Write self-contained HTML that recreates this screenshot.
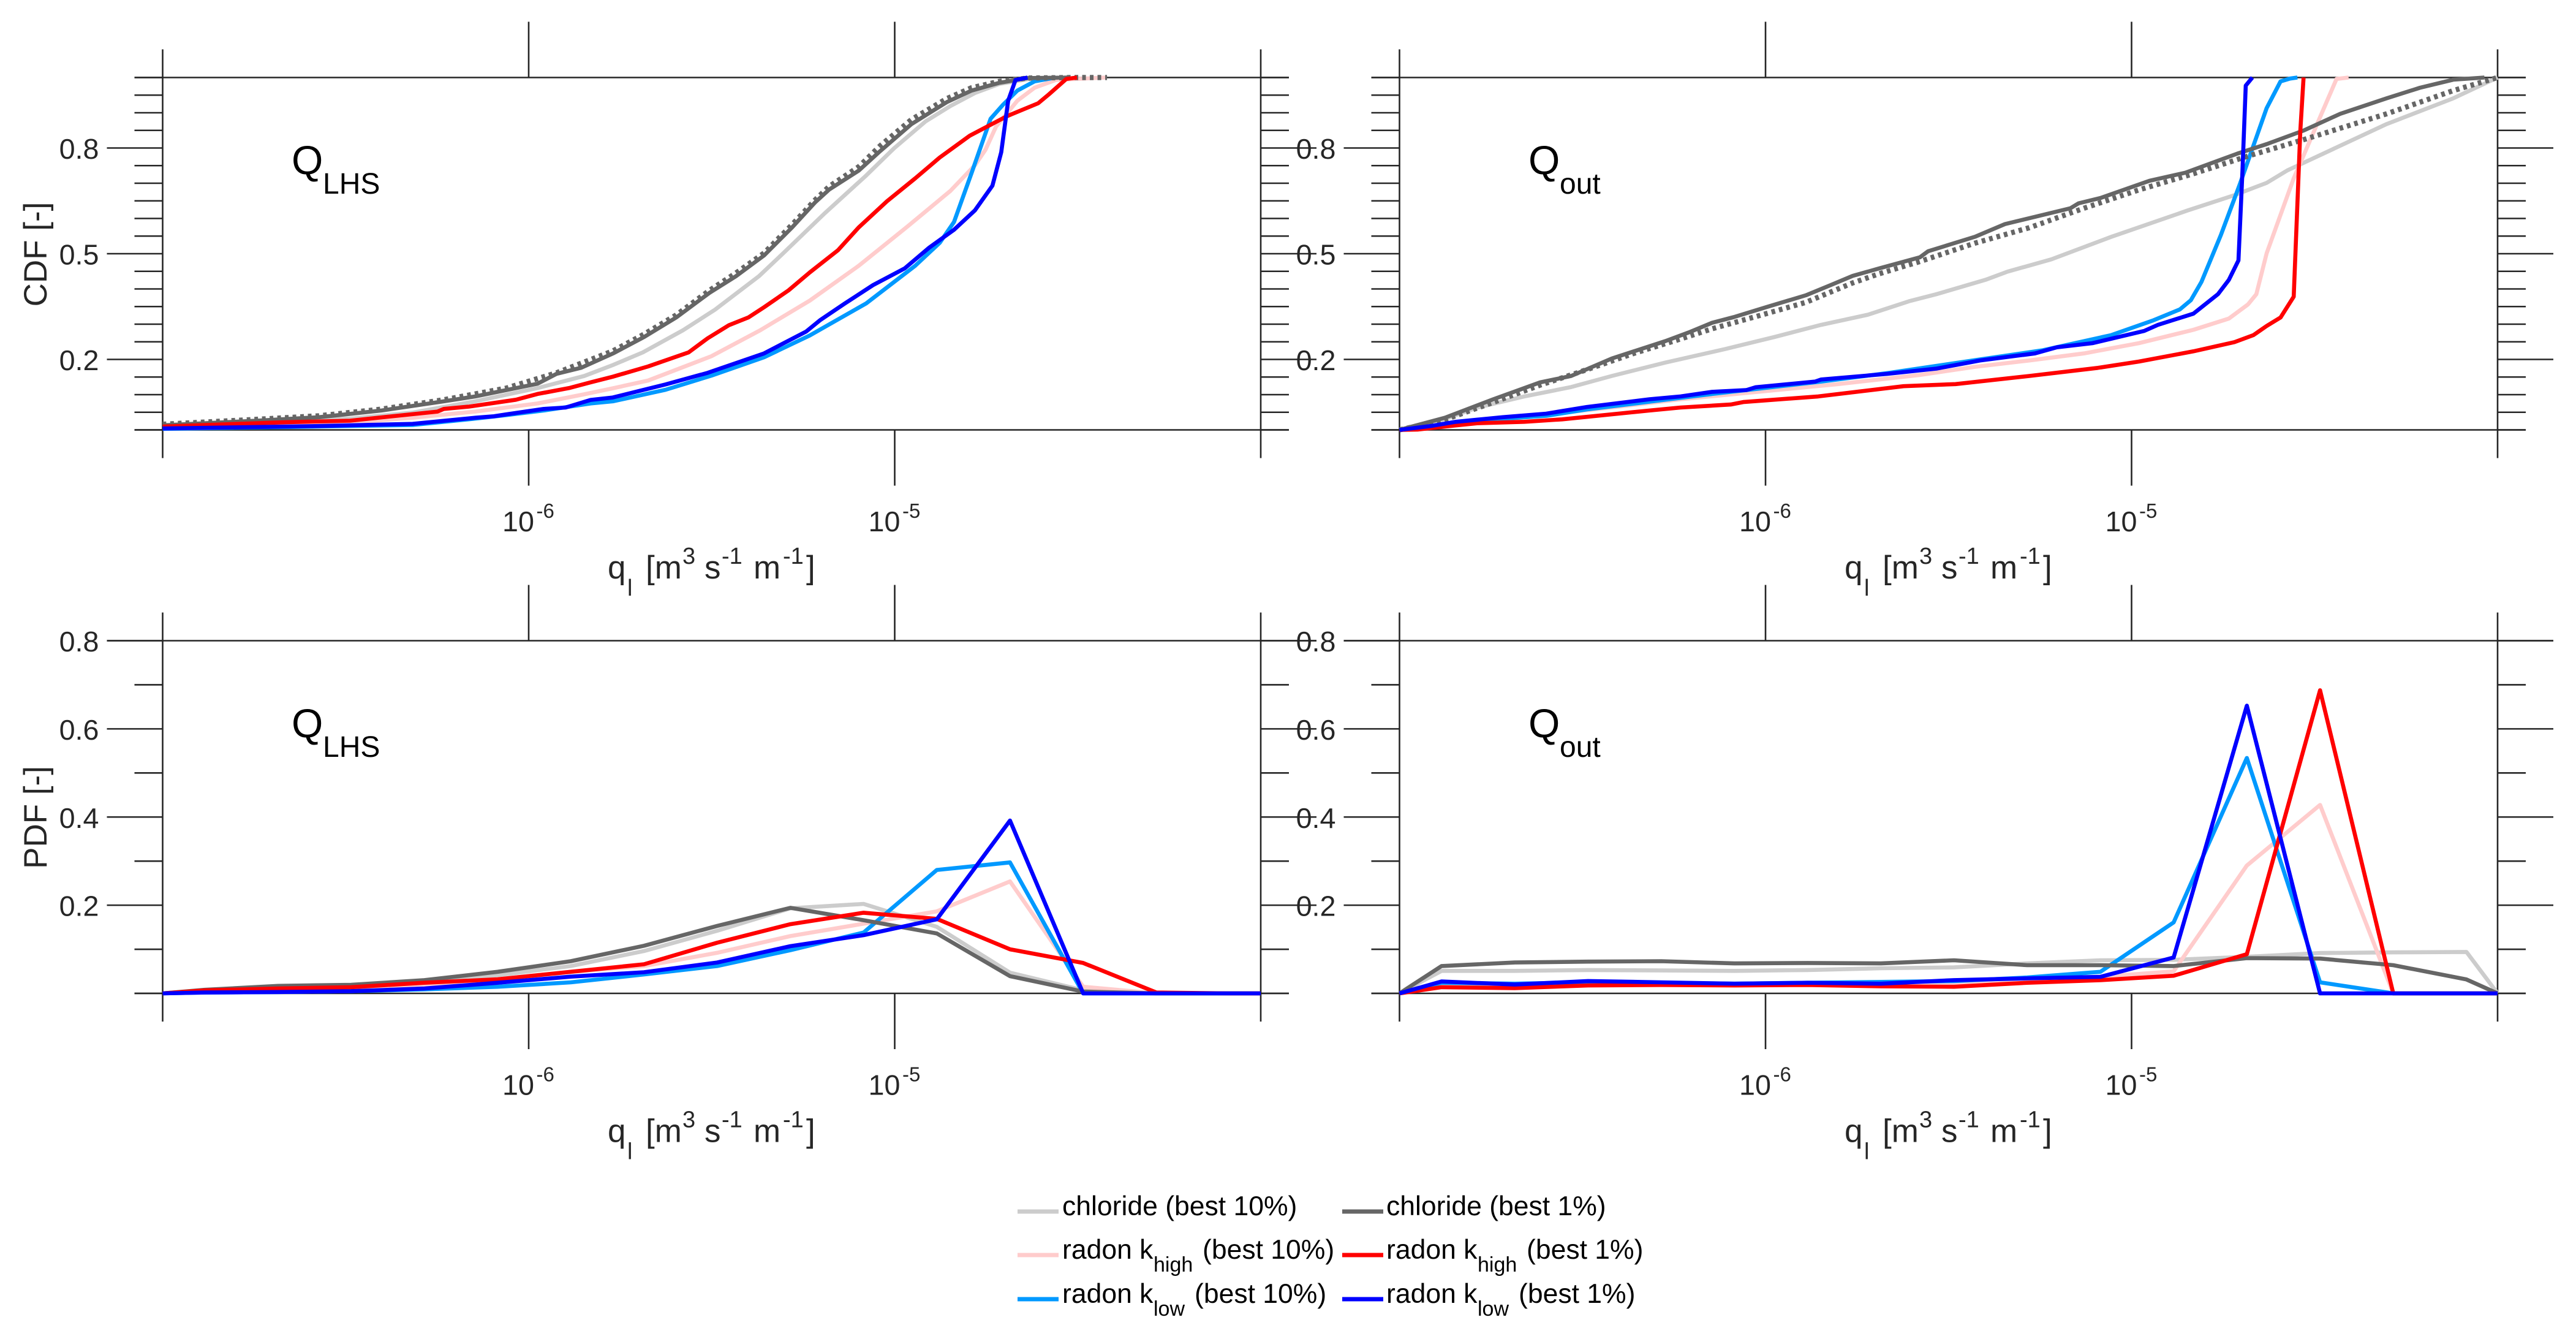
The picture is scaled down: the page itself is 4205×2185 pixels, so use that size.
<!DOCTYPE html>
<html lang="en">
<head>
<meta charset="utf-8">
<title>CDF and PDF of q_l for Q_LHS and Q_out</title>
<style>
html,body{margin:0;padding:0;background:#fff;}
svg{display:block;}
text{font-family:"Liberation Sans",Arial,sans-serif;fill:#262626;}
.title-black{fill:#000;}
</style>
</head>
<body>
<svg id="figure" xmlns="http://www.w3.org/2000/svg" width="4205" height="2185" viewBox="0 0 4205 2185">
<rect x="0" y="0" width="4205" height="2185" fill="#fff"/>

<!-- y axis titles -->
<text transform="translate(76,415) rotate(-90)" text-anchor="middle" font-size="53">CDF [-]</text>
<text transform="translate(76,1334) rotate(-90)" text-anchor="middle" font-size="53">PDF [-]</text>

<!-- x axis titles -->
<g transform="translate(0,0)">
<text font-size="53"><tspan x="992" y="944">q</tspan><tspan x="1024" y="972" font-size="38">l</tspan><tspan x="1054" y="944">[m</tspan><tspan x="1114" y="920" font-size="38">3</tspan><tspan x="1150" y="944">s</tspan><tspan x="1178" y="920" font-size="38">-1</tspan><tspan x="1230" y="944">m</tspan><tspan x="1278" y="920" font-size="38">-1</tspan><tspan x="1316" y="944">]</tspan></text>
</g>
<g transform="translate(2019,0)">
<text font-size="53"><tspan x="992" y="944">q</tspan><tspan x="1024" y="972" font-size="38">l</tspan><tspan x="1054" y="944">[m</tspan><tspan x="1114" y="920" font-size="38">3</tspan><tspan x="1150" y="944">s</tspan><tspan x="1178" y="920" font-size="38">-1</tspan><tspan x="1230" y="944">m</tspan><tspan x="1278" y="920" font-size="38">-1</tspan><tspan x="1316" y="944">]</tspan></text>
</g>
<g transform="translate(0,919.5)">
<text font-size="53"><tspan x="992" y="944">q</tspan><tspan x="1024" y="972" font-size="38">l</tspan><tspan x="1054" y="944">[m</tspan><tspan x="1114" y="920" font-size="38">3</tspan><tspan x="1150" y="944">s</tspan><tspan x="1178" y="920" font-size="38">-1</tspan><tspan x="1230" y="944">m</tspan><tspan x="1278" y="920" font-size="38">-1</tspan><tspan x="1316" y="944">]</tspan></text>
</g>
<g transform="translate(2019,919.5)">
<text font-size="53"><tspan x="992" y="944">q</tspan><tspan x="1024" y="972" font-size="38">l</tspan><tspan x="1054" y="944">[m</tspan><tspan x="1114" y="920" font-size="38">3</tspan><tspan x="1150" y="944">s</tspan><tspan x="1178" y="920" font-size="38">-1</tspan><tspan x="1230" y="944">m</tspan><tspan x="1278" y="920" font-size="38">-1</tspan><tspan x="1316" y="944">]</tspan></text>
</g>

<!-- panel annotations -->
<text class="title-black"><tspan x="476" y="284" font-size="66">Q</tspan><tspan x="527" y="316" font-size="48">LHS</tspan></text>
<text class="title-black"><tspan x="2495" y="284" font-size="66">Q</tspan><tspan x="2546" y="316" font-size="48">out</tspan></text>
<text class="title-black"><tspan x="476" y="1203" font-size="66">Q</tspan><tspan x="527" y="1235" font-size="48">LHS</tspan></text>
<text class="title-black"><tspan x="2495" y="1203" font-size="66">Q</tspan><tspan x="2546" y="1235" font-size="48">out</tspan></text>

<!-- legend -->
<g>
<g>
<line x1="1661" x2="1728" y1="1977" y2="1977" stroke="#cccccc" stroke-width="7"/>
<text font-size="44.5" class="title-black" x="1734" y="1983">chloride (best 10%)</text>
</g>
<g>
<line x1="1661" x2="1728" y1="2048" y2="2048" stroke="#ffcccc" stroke-width="7"/>
<text font-size="44.5" class="title-black"><tspan x="1734" y="2054">radon k</tspan><tspan x="1883" y="2075" font-size="34">high</tspan><tspan x="1963" y="2054">(best 10%)</tspan></text>
</g>
<g>
<line x1="1661" x2="1728" y1="2120" y2="2120" stroke="#0099ff" stroke-width="7"/>
<text font-size="44.5" class="title-black"><tspan x="1734" y="2126">radon k</tspan><tspan x="1883" y="2147" font-size="34">low</tspan><tspan x="1950" y="2126">(best 10%)</tspan></text>
</g>
<g>
<line x1="2191" x2="2258" y1="1977" y2="1977" stroke="#666666" stroke-width="7"/>
<text font-size="44.5" class="title-black" x="2263" y="1983">chloride (best 1%)</text>
</g>
<g>
<line x1="2191" x2="2258" y1="2048" y2="2048" stroke="#ff0000" stroke-width="7"/>
<text font-size="44.5" class="title-black"><tspan x="2263" y="2054">radon k</tspan><tspan x="2412" y="2075" font-size="34">high</tspan><tspan x="2492" y="2054">(best 1%)</tspan></text>
</g>
<g>
<line x1="2191" x2="2258" y1="2120" y2="2120" stroke="#0000ff" stroke-width="7"/>
<text font-size="44.5" class="title-black"><tspan x="2263" y="2126">radon k</tspan><tspan x="2412" y="2147" font-size="34">low</tspan><tspan x="2479" y="2126">(best 1%)</tspan></text>
</g>
</g>
</svg>

<script>
// ---- tick data ----
const xTickExponents = [-6, -5];
const cdfMajorTicks = [0.2, 0.5, 0.8];
const cdfMinorTicks = [0, 0.05, 0.1, 0.15, 0.25, 0.3, 0.35, 0.4, 0.45, 0.55, 0.6, 0.65, 0.7, 0.75, 0.85, 0.9, 0.95, 1];
const pdfMajorTicks = [0.2, 0.4, 0.6, 0.8];
const pdfMinorTicks = [0, 0.1, 0.3, 0.5, 0.7];

// ---- CDF Q_LHS (log10 q, CDF) ----
const cdfLhsChloride10X = [-7,-6.488,-6.317,-6.146,-5.976,-5.848,-5.77,-5.688,-5.578,-5.491,-5.371,-5.304,-5.194,-5.078,-5.002,-4.915,-4.848,-4.781,-4.714,-4.618,-4.52];
const cdfLhsChloride10Y = [.011,.032,.049,.081,.1186,.153,.184,.22,.283,.341,.436,.502,.612,.722,.799,.876,.919,.956,.982,.9985,1];
const cdfLhsChloride1X = [-7,-6.744,-6.573,-6.402,-6.232,-6.146,-6.061,-5.976,-5.924,-5.856,-5.77,-5.684,-5.597,-5.506,-5.434,-5.357,-5.28,-5.218,-5.179,-5.098,-5.04,-4.954,-4.858,-4.79,-4.714,-4.637,-4.52];
const cdfLhsChloride1Y = [.013,.026,.036,.055,.081,.095,.113,.131,.159,.1765,.2167,.264,.319,.389,.436,.495,.575,.645,.682,.736,.791,.868,.93,.963,.985,.9985,1];
const cdfLhsDottedX = [-7,-6.744,-6.573,-6.402,-6.232,-6.061,-5.924,-5.77,-5.684,-5.597,-5.506,-5.434,-5.357,-5.28,-5.218,-5.179,-5.098,-5.04,-4.954,-4.858,-4.79,-4.714,-4.637,-4.52,-4.42];
const cdfLhsDottedY = [.016,.03,.04,.059,.0855,.1186,.162,.224,.272,.326,.396,.445,.502,.583,.652,.691,.747,.806,.881,.94,.971,.989,.9985,1,1];
const cdfLhsHigh10X = [-7,-6.488,-6.317,-6.146,-5.976,-5.848,-5.77,-5.674,-5.501,-5.367,-5.232,-5.098,-4.963,-4.848,-4.781,-4.752,-4.723,-4.665,-4.618,-4.56,-4.425];
const cdfLhsHigh10Y = [.007,.021,.0345,.052,.075,.101,.118,.14,.209,.283,.367,.466,.579,.678,.751,.795,.861,.934,.971,.993,1];
const cdfLhsHigh1X = [-7,-6.659,-6.488,-6.36,-6.249,-6.232,-6.163,-6.035,-5.976,-5.89,-5.831,-5.77,-5.674,-5.563,-5.511,-5.453,-5.4,-5.357,-5.29,-5.232,-5.155,-5.098,-5.021,-4.944,-4.877,-4.795,-4.694,-4.608,-4.579,-4.531,-4.502];
const cdfLhsHigh1Y = [.0096,.022,.026,.04,.052,.0594,.066,.0855,.102,.1186,.135,.151,.18,.22,.26,.297,.319,.348,.396,.447,.51,.575,.649,.714,.773,.835,.89,.927,.952,.996,1];
const cdfLhsLow10X = [-7,-6.573,-6.317,-6.146,-6.061,-5.959,-5.831,-5.77,-5.626,-5.501,-5.357,-5.232,-5.078,-4.944,-4.877,-4.838,-4.79,-4.738,-4.704,-4.665,-4.618,-4.56];
const cdfLhsLow10Y = [.003,.0096,.014,.032,.042,.055,.075,.081,.114,.154,.206,.268,.359,.466,.531,.59,.729,.883,.923,.963,.989,1];
const cdfLhsLow1X = [-7,-6.573,-6.317,-6.146,-6.095,-6.061,-5.959,-5.899,-5.831,-5.77,-5.626,-5.511,-5.357,-5.242,-5.203,-5.136,-5.059,-4.973,-4.906,-4.838,-4.781,-4.733,-4.709,-4.69,-4.67,-4.637];
const cdfLhsLow1Y = [.004,.011,.017,.0345,.0386,.044,.0594,.0635,.085,.092,.129,.162,.217,.279,.312,.359,.411,.458,.517,.568,.623,.693,.788,.934,.993,1];

// ---- CDF Q_out (log10 q, CDF) ----
const cdfOutChloride10X = [-7,-6.915,-6.787,-6.659,-6.531,-6.42,-6.274,-6.112,-5.976,-5.848,-5.72,-5.608,-5.533,-5.399,-5.339,-5.219,-5.055,-4.846,-4.719,-4.631,-4.575,-4.303,-4.121,-4];
const cdfOutChloride10Y = [0,.017,.0635,.095,.1215,.153,.191,.229,.2635,.298,.327,.365,.385,.426,.449,.484,.548,.623,.666,.701,.736,.868,.941,1];
const cdfOutChloride1X = [-7,-6.876,-6.744,-6.616,-6.531,-6.42,-6.274,-6.206,-6.146,-6.087,-5.993,-5.89,-5.822,-5.762,-5.69,-5.578,-5.556,-5.428,-5.346,-5.167,-5.145,-5.085,-4.951,-4.853,-4.711,-4.631,-4.529,-4.43,-4.303,-4.212,-4.121,-4.036];
const cdfOutChloride1Y = [0,.0345,.0867,.1348,.153,.2026,.2519,.278,.304,.32,.35,.382,.411,.437,.458,.49,.507,.548,.584,.629,.643,.658,.707,.73,.784,.811,.85,.897,.941,.971,.994,1];
const cdfOutDottedX = [-7,-6.876,-6.744,-6.616,-6.488,-6.36,-6.232,-6.146,-6.018,-5.89,-5.762,-5.69,-5.578,-5.428,-5.279,-5.13,-4.98,-4.831,-4.682,-4.529,-4.303,-4.121,-4];
const cdfOutDottedY = [0,.029,.078,.127,.171,.217,.258,.287,.324,.362,.417,.443,.478,.53,.574,.629,.681,.727,.777,.824,.897,.963,1];
const cdfOutHigh10X = [-7,-6.863,-6.744,-6.573,-6.402,-6.232,-6.061,-5.89,-5.802,-5.578,-5.428,-5.279,-5.13,-4.98,-4.831,-4.734,-4.682,-4.659,-4.631,-4.557,-4.44,-4.407];
const cdfOutHigh10Y = [0,.014,.026,.046,.066,.087,.104,.121,.13,.156,.179,.197,.217,.246,.284,.316,.356,.385,.501,.714,.996,1];
const cdfOutHigh1X = [-7,-6.949,-6.863,-6.787,-6.659,-6.556,-6.402,-6.317,-6.232,-6.095,-6.061,-5.856,-5.623,-5.481,-5.279,-5.092,-4.98,-4.831,-4.719,-4.667,-4.631,-4.593,-4.557,-4.539,-4.53];
const cdfOutHigh1Y = [0,.001,.011,.019,.023,.03,.046,.055,.0635,.072,.079,.095,.124,.13,.153,.176,.194,.223,.249,.269,.295,.319,.378,.846,1];
const cdfOutLow10X = [-7,-6.915,-6.846,-6.718,-6.599,-6.488,-6.317,-6.146,-6.027,-5.848,-5.662,-5.414,-5.242,-5.055,-4.943,-4.868,-4.838,-4.809,-4.756,-4.704,-4.631,-4.593,-4.567,-4.547];
const cdfOutLow10Y = [0,.009,.02,.0316,.04,.058,.08,.102,.116,.137,.162,.2,.226,.269,.31,.342,.368,.42,.553,.698,.913,.989,.997,1];
const cdfOutLow1X = [-7,-6.915,-6.846,-6.718,-6.599,-6.488,-6.317,-6.232,-6.146,-6.052,-6.027,-5.865,-5.848,-5.668,-5.533,-5.414,-5.264,-5.204,-5.107,-4.965,-4.928,-4.831,-4.764,-4.734,-4.708,-4.697,-4.688,-4.67];
const cdfOutLow1Y = [0,.011,.023,.036,.046,.065,.087,.095,.108,.113,.121,.137,.143,.159,.174,.197,.217,.2345,.246,.281,.298,.33,.385,.426,.481,.733,.977,1];

// ---- PDF bins (log10 q) ----
const pdfBins = [-7,-6.885,-6.685,-6.485,-6.285,-6.085,-5.885,-5.685,-5.485,-5.285,-5.085,-4.885,-4.685,-4.485,-4.285,-4.085,-4];

// ---- PDF Q_LHS ----
const pdfLhsChloride10 = [0,.005,.011,.0136,.024,.041,.062,.096,.142,.193,.203,.151,.047,.007,0,0,0];
const pdfLhsChloride1 = [0,.008,.017,.0195,.03,.049,.073,.108,.153,.194,.166,.136,.039,.004,0,0,0];
const pdfLhsHigh10 = [0,.003,.007,.011,.02,.032,.049,.062,.092,.13,.158,.186,.254,.015,0,0,0];
const pdfLhsHigh1 = [0,.007,.011,.014,.024,.032,.049,.066,.115,.157,.183,.169,.1,.069,.002,0,0];
const pdfLhsLow10 = [0,.002,.003,.005,.009,.015,.025,.043,.062,.098,.138,.28,.297,0,0,0,0];
const pdfLhsLow1 = [0,.002,.003,.005,.011,.024,.038,.048,.07,.107,.132,.168,.392,0,0,0,0];

// ---- PDF Q_out ----
const pdfOutChloride10 = [0,.051,.051,.053,.052,.051,.053,.057,.059,.068,.075,.076,.083,.0915,.093,.094,0];
const pdfOutChloride1 = [0,.062,.07,.072,.073,.068,.069,.068,.075,.064,.064,.062,.08,.079,.064,.0315,0];
const pdfOutHigh10 = [0,.017,.015,.021,.021,.019,.021,.021,.024,.03,.0375,.05,.29,.4275,0,0,0];
const pdfOutHigh1 = [0,.014,.012,.018,.019,.018,.019,.016,.015,.024,.03,.04,.089,.6875,0,0,0];
const pdfOutLow10 = [0,.024,.022,.025,.024,.022,.024,.026,.028,.036,.049,.161,.534,.025,0,0,0];
const pdfOutLow1 = [0,.027,.02,.028,.025,.022,.024,.022,.03,.034,.0375,.0815,.6525,0,0,0,0];

const seriesColors = { chloride10:'#cccccc', chloride1:'#666666', high10:'#ffcccc', high1:'#ff0000', low10:'#0099ff', low1:'#0000ff' };
const AXIS = '#262626';
const svg = document.getElementById('figure');
const NS = 'http://www.w3.org/2000/svg';

function xScale(panel, logValue) { return panel.left + (logValue + 7) * panel.width / 3; }
function yScale(panel, value) { return panel.y0 - (value / panel.yMax) * (panel.y0 - panel.yTop); }

function seg(parent, name, x1, y1, x2, y2) {
  const el = document.createElementNS(NS, 'line');
  
  
  el.setAttribute('x1', x1); el.setAttribute('y1', y1);
  el.setAttribute('x2', x2); el.setAttribute('y2', y2);
  el.setAttribute('stroke', AXIS);
  el.setAttribute('stroke-width', '2.6');
  parent.appendChild(el);
}

function drawSeries(parent, panel, name, xs, ys, color, dotted) {
  const pts = xs.map((v, i) => xScale(panel, v).toFixed(1) + ',' + yScale(panel, ys[i]).toFixed(1)).join(' ');
  const el = document.createElementNS(NS, 'polyline');
  
  
  el.setAttribute('points', pts);
  el.setAttribute('fill', 'none');
  el.setAttribute('stroke', color);
  el.setAttribute('stroke-linejoin', 'round');
  if (dotted) {
    el.setAttribute('stroke-width', '8.5');
    el.setAttribute('stroke-dasharray', '6 6.5');
  } else {
    el.setAttribute('stroke-width', '6.6');
  }
  parent.appendChild(el);
}

function drawAxes(panel) {
  const g = document.createElementNS(NS, 'g');
  
  
  svg.appendChild(g);
  const L = panel.left, R = panel.left + panel.width;
  const minorLen = 46, majorLen = 91;
  seg(g, panel.name + '-left-axis', L, panel.yTop - 46, L, panel.y0 + 46);
  seg(g, panel.name + '-right-axis', R, panel.yTop - 46, R, panel.y0 + 46);
  const topLen = panel.topMajor ? majorLen : minorLen;
  seg(g, panel.name + '-top-axis', L - topLen, panel.yTop, R + topLen, panel.yTop);
  seg(g, panel.name + '-bottom-axis', L - minorLen, panel.y0, R + minorLen, panel.y0);
  panel.minor.forEach(v => {
    seg(g, panel.name + '-y-minor-tick-left', L - minorLen, yScale(panel, v), L, yScale(panel, v));
    seg(g, panel.name + '-y-minor-tick-right', R, yScale(panel, v), R + minorLen, yScale(panel, v));
  });
  panel.major.forEach(v => {
    seg(g, panel.name + '-y-major-tick-left', L - majorLen, yScale(panel, v), L, yScale(panel, v));
    seg(g, panel.name + '-y-major-tick-right', R, yScale(panel, v), R + majorLen, yScale(panel, v));
    const t = document.createElementNS(NS, 'text');
    
    
    t.setAttribute('x', L - 104);
    t.setAttribute('y', yScale(panel, v) + 17.5);
    t.setAttribute('text-anchor', 'end');
    t.setAttribute('font-size', '46.7');
    t.textContent = v.toFixed(1);
    g.appendChild(t);
  });
  xTickExponents.forEach(e => {
    const x = xScale(panel, e);
    seg(g, panel.name + '-x-tick-top', x, panel.yTop - 91, x, panel.yTop);
    seg(g, panel.name + '-x-tick-bottom', x, panel.y0, x, panel.y0 + 91);
    const t = document.createElementNS(NS, 'text');
    
    
    t.setAttribute('font-size', '46.7');
    const base = document.createElementNS(NS, 'tspan');
    base.setAttribute('x', x - 43);
    base.setAttribute('y', panel.y0 + 165.5);
    base.textContent = '10';
    const sup = document.createElementNS(NS, 'tspan');
    sup.setAttribute('x', x + 12.5);
    sup.setAttribute('y', panel.y0 + 143.5);
    sup.setAttribute('font-size', '33');
    sup.textContent = String(e);
    t.appendChild(base);
    t.appendChild(sup);
    g.appendChild(t);
  });
  return g;
}

const cdfLhsPanel = { name:'cdf-lhs', left:265.5, width:1792.5, y0:701.5, yTop:126.5, yMax:1, major:cdfMajorTicks, minor:cdfMinorTicks, topMajor:false };
const cdfOutPanel = { name:'cdf-out', left:2284.5, width:1792.5, y0:701.5, yTop:126.5, yMax:1, major:cdfMajorTicks, minor:cdfMinorTicks, topMajor:false };
const pdfLhsPanel = { name:'pdf-lhs', left:265.5, width:1792.5, y0:1621, yTop:1045.5, yMax:0.8, major:pdfMajorTicks, minor:pdfMinorTicks, topMajor:true };
const pdfOutPanel = { name:'pdf-out', left:2284.5, width:1792.5, y0:1621, yTop:1045.5, yMax:0.8, major:pdfMajorTicks, minor:pdfMinorTicks, topMajor:true };

[cdfLhsPanel, cdfOutPanel, pdfLhsPanel, pdfOutPanel].forEach(drawAxes);

// CDF Q_LHS lines
drawSeries(svg, cdfLhsPanel, 'cdf-lhs-chloride-best-10', cdfLhsChloride10X, cdfLhsChloride10Y, seriesColors.chloride10);
drawSeries(svg, cdfLhsPanel, 'cdf-lhs-radon-khigh-best-10', cdfLhsHigh10X, cdfLhsHigh10Y, seriesColors.high10);
drawSeries(svg, cdfLhsPanel, 'cdf-lhs-radon-klow-best-10', cdfLhsLow10X, cdfLhsLow10Y, seriesColors.low10);
drawSeries(svg, cdfLhsPanel, 'cdf-lhs-reference-dotted', cdfLhsDottedX, cdfLhsDottedY, seriesColors.chloride1, true);
drawSeries(svg, cdfLhsPanel, 'cdf-lhs-chloride-best-1', cdfLhsChloride1X, cdfLhsChloride1Y, seriesColors.chloride1);
drawSeries(svg, cdfLhsPanel, 'cdf-lhs-radon-khigh-best-1', cdfLhsHigh1X, cdfLhsHigh1Y, seriesColors.high1);
drawSeries(svg, cdfLhsPanel, 'cdf-lhs-radon-klow-best-1', cdfLhsLow1X, cdfLhsLow1Y, seriesColors.low1);

// CDF Q_out lines
drawSeries(svg, cdfOutPanel, 'cdf-out-chloride-best-10', cdfOutChloride10X, cdfOutChloride10Y, seriesColors.chloride10);
drawSeries(svg, cdfOutPanel, 'cdf-out-radon-khigh-best-10', cdfOutHigh10X, cdfOutHigh10Y, seriesColors.high10);
drawSeries(svg, cdfOutPanel, 'cdf-out-radon-klow-best-10', cdfOutLow10X, cdfOutLow10Y, seriesColors.low10);
drawSeries(svg, cdfOutPanel, 'cdf-out-reference-dotted', cdfOutDottedX, cdfOutDottedY, seriesColors.chloride1, true);
drawSeries(svg, cdfOutPanel, 'cdf-out-chloride-best-1', cdfOutChloride1X, cdfOutChloride1Y, seriesColors.chloride1);
drawSeries(svg, cdfOutPanel, 'cdf-out-radon-khigh-best-1', cdfOutHigh1X, cdfOutHigh1Y, seriesColors.high1);
drawSeries(svg, cdfOutPanel, 'cdf-out-radon-klow-best-1', cdfOutLow1X, cdfOutLow1Y, seriesColors.low1);

// PDF Q_LHS lines
drawSeries(svg, pdfLhsPanel, 'pdf-lhs-chloride-best-10', pdfBins, pdfLhsChloride10, seriesColors.chloride10);
drawSeries(svg, pdfLhsPanel, 'pdf-lhs-radon-khigh-best-10', pdfBins, pdfLhsHigh10, seriesColors.high10);
drawSeries(svg, pdfLhsPanel, 'pdf-lhs-radon-klow-best-10', pdfBins, pdfLhsLow10, seriesColors.low10);
drawSeries(svg, pdfLhsPanel, 'pdf-lhs-chloride-best-1', pdfBins, pdfLhsChloride1, seriesColors.chloride1);
drawSeries(svg, pdfLhsPanel, 'pdf-lhs-radon-khigh-best-1', pdfBins, pdfLhsHigh1, seriesColors.high1);
drawSeries(svg, pdfLhsPanel, 'pdf-lhs-radon-klow-best-1', pdfBins, pdfLhsLow1, seriesColors.low1);

// PDF Q_out lines
drawSeries(svg, pdfOutPanel, 'pdf-out-chloride-best-10', pdfBins, pdfOutChloride10, seriesColors.chloride10);
drawSeries(svg, pdfOutPanel, 'pdf-out-radon-khigh-best-10', pdfBins, pdfOutHigh10, seriesColors.high10);
drawSeries(svg, pdfOutPanel, 'pdf-out-radon-klow-best-10', pdfBins, pdfOutLow10, seriesColors.low10);
drawSeries(svg, pdfOutPanel, 'pdf-out-chloride-best-1', pdfBins, pdfOutChloride1, seriesColors.chloride1);
drawSeries(svg, pdfOutPanel, 'pdf-out-radon-khigh-best-1', pdfBins, pdfOutHigh1, seriesColors.high1);
drawSeries(svg, pdfOutPanel, 'pdf-out-radon-klow-best-1', pdfBins, pdfOutLow1, seriesColors.low1);
</script>
</body>
</html>
